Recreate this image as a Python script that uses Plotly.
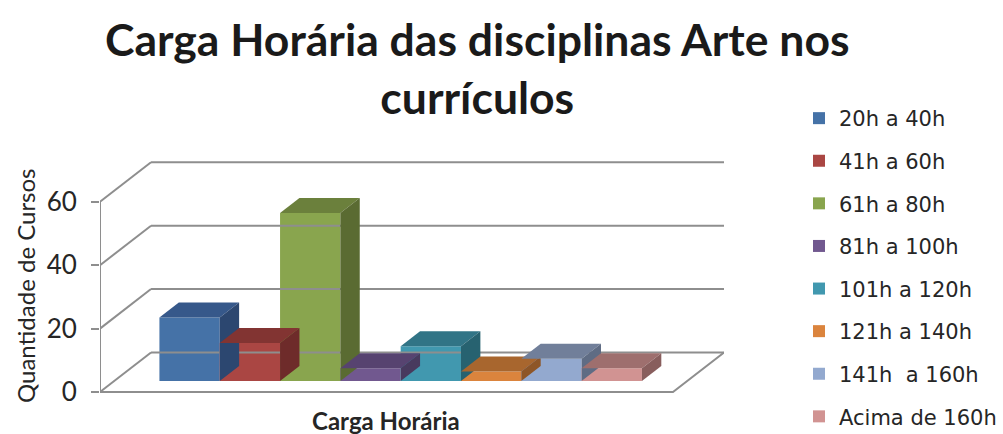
import plotly.graph_objects as go

# ---- data ----
categories = ["20h a 40h", "41h a 60h", "61h a 80h", "81h a 100h",
              "101h a 120h", "121h a 140h", "141h  a 160h", "Acima de 160h"]
values = [20, 12, 53, 4, 11, 3, 7, 4]
y_ticks = [0, 20, 40, 60]
front_colors = ["#4572A7", "#AA4643", "#89A54E", "#71588F",
                "#4198AF", "#DB843D", "#93A9CF", "#D19392"]
top_colors = ["#36588A", "#823432", "#6B803C", "#574370",
              "#317486", "#A8662E", "#717F9A", "#9E6F6E"]
side_colors = ["#2C4770", "#6E2B2A", "#5A6B32", "#483A5E",
               "#276270", "#8E5627", "#5F6C84", "#885E5D"]

# ---- geometry (oblique projection) ----
W, H = 1003, 434
ML, MR = 100, 279
MARGIN = 0.75          # floor margin left/right of bars (bar widths)
KX, KY = 0.846, 12.47  # full depth offset in x units / y units
D0, D1 = 0.278, 0.658  # bar front / back depth fraction
n = len(values)
floor_w = n + 2 * MARGIN
YMAX = max(y_ticks)
PXU = 3.1696           # pixels per value unit
Y0PX = 392             # pixel row of value 0 on the front axis
y_lo = -(H - Y0PX) / PXU
y_hi = Y0PX / PXU
LINE = dict(color="#8E8E8E", width=2)

def px_x(p):
    return (p - ML) / (W - ML - MR)

def px_y(p):
    return 1 - p / H

fig = go.Figure()

def line(xs, ys):
    fig.add_trace(go.Scatter(x=xs, y=ys, mode="lines", line=LINE,
                             hoverinfo="skip", showlegend=False))

# back wall gridlines and side-wall obliques
for v in y_ticks:
    line([KX, floor_w + KX], [v + KY, v + KY])
    line([0, KX], [v, v + KY])
# floor outline
line([0, floor_w, floor_w + KX], [0, 0, KY])
# front vertical axis line
line([0, 0], [0, YMAX])

# bars
for i, (cat, v) in enumerate(zip(categories, values)):
    xl = MARGIN + i + D0 * KX
    xr = xl + 1
    yb = D0 * KY
    yt = yb + v
    ddx = (D1 - D0) * KX
    ddy = (D1 - D0) * KY
    fig.add_trace(go.Bar(x=[(xl + xr) / 2], y=[v], base=[yb], width=[1],
                         marker=dict(color=front_colors[i], line=dict(width=0)),
                         name=cat, legendgroup=cat, hoverinfo="skip"))
    fig.add_trace(go.Scatter(x=[xl, xr, xr + ddx, xl + ddx, xl],
                             y=[yt, yt, yt + ddy, yt + ddy, yt],
                             fill="toself", fillcolor=top_colors[i], mode="none",
                             legendgroup=cat, showlegend=False, hoverinfo="skip"))
    fig.add_trace(go.Scatter(x=[xr, xr + ddx, xr + ddx, xr, xr],
                             y=[yb, yb + ddy, yt + ddy, yt, yb],
                             fill="toself", fillcolor=side_colors[i], mode="none",
                             legendgroup=cat, showlegend=False, hoverinfo="skip"))

fig.update_layout(
    width=W, height=H,
    margin=dict(l=ML, r=MR, t=0, b=0, autoexpand=False),
    paper_bgcolor="white", plot_bgcolor="white",
    barmode="overlay",
    font=dict(family="Lato", color="#262626"),
    xaxis=dict(range=[0, floor_w + KX], showgrid=False, zeroline=False,
               showticklabels=False, showline=False, fixedrange=True),
    yaxis=dict(range=[y_lo, y_hi], tickvals=y_ticks, ticks="outside",
               ticklen=8, tickwidth=2, tickcolor="#8E8E8E",
               ticklabelstandoff=9,
               showgrid=False, zeroline=False, showline=False,
               tickfont=dict(family="Lato", size=26, color="#262626")),
    legend=dict(x=px_x(799), xanchor="left", y=px_y(98), yanchor="top",
                font=dict(family="DejaVu Sans", size=21, color="#262626"),
                tracegroupgap=12.3, itemclick=False),
    annotations=[
        dict(text="<b>Carga Horária das disciplinas Arte nos<br>currículos</b>",
             xref="paper", yref="paper", x=px_x(477), y=px_y(10),
             xanchor="center", yanchor="top", showarrow=False,
             font=dict(family="Lato", size=44.5, color="#1A1A1A")),
        dict(text="<b>Carga Horária</b>", xref="paper", yref="paper",
             x=px_x(386), y=px_y(420), xanchor="center", yanchor="middle",
             showarrow=False, font=dict(family="Lato", size=24, color="#262626")),
        dict(text="Quantidade de Cursos", xref="paper", yref="paper",
             x=px_x(25), y=px_y(286), xanchor="center", yanchor="middle",
             textangle=-90, showarrow=False,
             font=dict(family="Lato", size=24, color="#262626")),
    ],
)

fig.write_html("out.html", config={"displayModeBar": False},
               post_script="document.body.style.margin='0';document.body.style.overflow='hidden';")
